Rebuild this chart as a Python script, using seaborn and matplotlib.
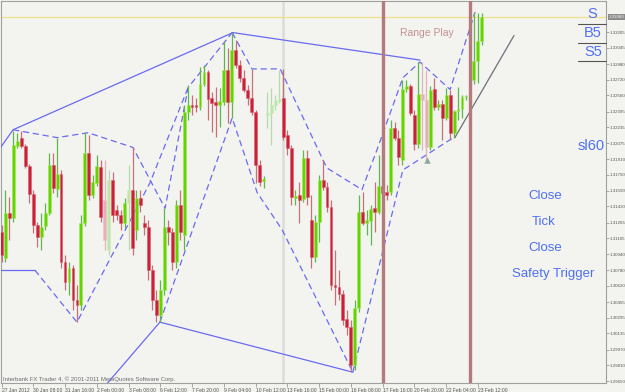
import matplotlib
matplotlib.use("Agg")
import matplotlib.pyplot as plt
import matplotlib.transforms as mtransforms
import numpy as np
import pandas as pd
import seaborn as sns

# ---------------- data (H4 candles) ----------------
date_labels = ["27 Jan 2012", "30 Jan 08:00", "31 Jan 16:00", "2 Feb 00:00", "3 Feb 08:00",
               "6 Feb 12:00", "7 Feb 20:00", "9 Feb 04:00", "10 Feb 12:00", "13 Feb 16:00",
               "15 Feb 00:00", "16 Feb 08:00", "17 Feb 16:00", "20 Feb 20:00", "22 Feb 04:00",
               "23 Feb 12:00"]
date_label_bars = [0, 8, 16, 24, 32, 40, 48, 56, 64, 72, 80, 88, 96, 104, 112, 120]

opens = [1.3117, 1.3090, 1.3136, 1.3131, 1.3204, 1.3213, 1.3204, 1.3184, 1.3156, 1.3124,
         1.3112, 1.3123, 1.3136, 1.3185, 1.3161, 1.3176, 1.3086, 1.3066, 1.3080, 1.3048,
         1.3042, 1.3126, 1.3197, 1.3155, 1.3167, 1.3183, 1.3149, 1.3098, 1.3170, 1.3139,
         1.3134, 1.3126, 1.3146, 1.3160, 1.3119, 1.3151, 1.3126, 1.3122, 1.3078, 1.3048,
         1.3032, 1.3058, 1.3122, 1.3117, 1.3086, 1.3144, 1.3114, 1.3239, 1.3246, 1.3246,
         1.3244, 1.3268, 1.3280, 1.3253, 1.3249, 1.3246, 1.3249, 1.3282, 1.3249, 1.3302,
         1.3287, 1.3274, 1.3262, 1.3253, 1.3239, 1.3185, 1.3169, 1.3236, 1.3238, 1.3246,
         1.3250, 1.3253, 1.3216, 1.3202, 1.3151, 1.3155, 1.3150, 1.3192, 1.3129, 1.3091,
         1.3127, 1.3170, 1.3163, 1.3142, 1.3063, 1.3061, 1.3054, 1.3028, 1.3020, 1.2981,
         1.3039, 1.3137, 1.3126, 1.3128, 1.3141, 1.3137, 1.3164, 1.3158, 1.3158, 1.3223,
         1.3213, 1.3190, 1.3263, 1.3266, 1.3236, 1.3206, 1.3257, 1.3251, 1.3203, 1.3263,
         1.3244, 1.3247, 1.3233, 1.3256, 1.3218, 1.3240, 1.3242, 1.3254, 1.3254, 1.3272,
         1.3291, 1.3311]
highs = [1.3124, 1.3160, 1.3152, 1.3220, 1.3218, 1.3220, 1.3207, 1.3186, 1.3160, 1.3127,
         1.3136, 1.3146, 1.3197, 1.3197, 1.3213, 1.3180, 1.3093, 1.3086, 1.3083, 1.3063,
         1.3134, 1.3218, 1.3216, 1.3175, 1.3195, 1.3190, 1.3190, 1.3180, 1.3178, 1.3144,
         1.3139, 1.3151, 1.3185, 1.3203, 1.3160, 1.3160, 1.3134, 1.3129, 1.3083, 1.3058,
         1.3068, 1.3141, 1.3129, 1.3121, 1.3149, 1.3160, 1.3246, 1.3267, 1.3256, 1.3253,
         1.3285, 1.3287, 1.3282, 1.3259, 1.3265, 1.3264, 1.3310, 1.3304, 1.3320, 1.3312,
         1.3292, 1.3282, 1.3267, 1.3283, 1.3241, 1.3190, 1.3174, 1.3259, 1.3264, 1.3256,
         1.3282, 1.3283, 1.3221, 1.3205, 1.3160, 1.3168, 1.3200, 1.3200, 1.3155, 1.3134,
         1.3175, 1.3190, 1.3168, 1.3149, 1.3098, 1.3078, 1.3058, 1.3037, 1.3027, 1.3048,
         1.3155, 1.3158, 1.3139, 1.3144, 1.3168, 1.3195, 1.3170, 1.3165, 1.3231, 1.3229,
         1.3221, 1.3272, 1.3272, 1.3268, 1.3241, 1.3290, 1.3290, 1.3282, 1.3266, 1.3274,
         1.3251, 1.3251, 1.3264, 1.3262, 1.3241, 1.3265, 1.3256, 1.3256, 1.3287, 1.3341,
         1.3340, 1.3340]
lows = [1.3086, 1.3086, 1.3109, 1.3127, 1.3202, 1.3202, 1.3182, 1.3146, 1.3116, 1.3102,
        1.3098, 1.3119, 1.3134, 1.3157, 1.3152, 1.3080, 1.3058, 1.3053, 1.3037, 1.3025,
        1.3037, 1.3123, 1.3149, 1.3151, 1.3164, 1.3127, 1.3098, 1.3093, 1.3127, 1.3129,
        1.3119, 1.3121, 1.3098, 1.3093, 1.3109, 1.3137, 1.3114, 1.3068, 1.3037, 1.3025,
        1.3025, 1.3053, 1.3104, 1.3078, 1.3080, 1.3109, 1.3098, 1.3231, 1.3236, 1.3239,
        1.3241, 1.3266, 1.3231, 1.3219, 1.3214, 1.3224, 1.3246, 1.3228, 1.3233, 1.3284,
        1.3270, 1.3259, 1.3246, 1.3236, 1.3167, 1.3164, 1.3162, 1.3223, 1.3205, 1.3241,
        1.3248, 1.3211, 1.3195, 1.3144, 1.3144, 1.3126, 1.3147, 1.3144, 1.3080, 1.3086,
        1.3107, 1.3160, 1.3137, 1.3058, 1.3042, 1.3048, 1.3022, 1.3012, 1.2974, 1.2976,
        1.3035, 1.3124, 1.3114, 1.3104, 1.3117, 1.3135, 1.3155, 1.3149, 1.3155, 1.3211,
        1.3185, 1.3185, 1.3259, 1.3236, 1.3200, 1.3202, 1.3200, 1.3190, 1.3200, 1.3241,
        1.3241, 1.3211, 1.3231, 1.3211, 1.3213, 1.3231, 1.3233, 1.3251, 1.3241, 1.3268,
        1.3269, 1.3307]
closes = [1.3093, 1.3136, 1.3131, 1.3205, 1.3210, 1.3204, 1.3184, 1.3156, 1.3124, 1.3112,
          1.3122, 1.3136, 1.3185, 1.3162, 1.3176, 1.3086, 1.3066, 1.3080, 1.3048, 1.3042,
          1.3126, 1.3197, 1.3155, 1.3168, 1.3184, 1.3132, 1.3109, 1.3170, 1.3134, 1.3134,
          1.3126, 1.3146, 1.3160, 1.3101, 1.3151, 1.3144, 1.3122, 1.3078, 1.3048, 1.3032,
          1.3058, 1.3122, 1.3117, 1.3086, 1.3144, 1.3117, 1.3239, 1.3246, 1.3244, 1.3244,
          1.3268, 1.3280, 1.3252, 1.3248, 1.3246, 1.3250, 1.3282, 1.3249, 1.3302, 1.3287,
          1.3274, 1.3262, 1.3253, 1.3239, 1.3185, 1.3168, 1.3171, 1.3238, 1.3246, 1.3251,
          1.3252, 1.3214, 1.3202, 1.3152, 1.3154, 1.3149, 1.3192, 1.3152, 1.3091, 1.3127,
          1.3170, 1.3163, 1.3142, 1.3063, 1.3061, 1.3054, 1.3027, 1.3020, 1.2981, 1.3039,
          1.3137, 1.3126, 1.3129, 1.3140, 1.3137, 1.3164, 1.3157, 1.3155, 1.3223, 1.3213,
          1.3193, 1.3263, 1.3266, 1.3238, 1.3206, 1.3257, 1.3251, 1.3203, 1.3262, 1.3244,
          1.3247, 1.3233, 1.3256, 1.3218, 1.3240, 1.3242, 1.3254, 1.3255, 1.3272, 1.3291,
          1.3311, 1.3336]
faded_bars = [26, 27, 32, 67, 68, 69, 70, 106, 107]

price_ticks = [1.29650, 1.29810, 1.29970, 1.30135, 1.30295, 1.30455, 1.30620, 1.30780,
               1.30940, 1.31105, 1.31265, 1.31430, 1.31590, 1.31750, 1.31910, 1.32075,
               1.32235, 1.32395, 1.32560, 1.32720, 1.32880, 1.33045, 1.33205]
current_price = 1.33360

# trend lines: (bar, price) anchors
solid_lines = [
    ([-0.4, 2.9, 58.3], [1.3202, 1.3221, 1.3320]),
    ([58.3, 105.4], [1.3320, 1.3292]),
    ([-0.4, 8.4], [1.3078, 1.3078]),
    ([24.8, 39.9, 88.5], [1.2954, 1.3025, 1.2974]),
]
grey_line = ([114.2, 129.1], [1.3213, 1.3317])
dashed_lines = [
    ([2.9, 14.0, 21.8, 33.1, 41.2, 47.0, 58.1],
     [1.3221, 1.3213, 1.3218, 1.3203, 1.3141, 1.3264, 1.3320]),
    ([8.4, 19.0, 37.4, 47.0], [1.3078, 1.3025, 1.3167, 1.3264]),
    ([39.9, 58.1, 64.4, 70.7, 88.5], [1.3025, 1.3233, 1.3157, 1.3119, 1.2974]),
    ([58.1, 63.1, 70.2, 81.0, 82.0, 90.8, 94.8, 101.1, 105.4, 113.0, 119.3],
     [1.3320, 1.3283, 1.3283, 1.3190, 1.3182, 1.3160, 1.3203, 1.3274, 1.3290, 1.3262, 1.3341]),
    ([88.5, 101.1, 114.2], [1.2974, 1.3180, 1.3214]),
]
marker_bar, marker_price = 107.2, 1.3190
range_lines = [96, 118]
separator_bar = 70.9

# ---------------- styling ----------------
sns.set_style("white")
plt.rcParams["font.family"] = ["Liberation Sans", "DejaVu Sans"]

BG = "#f3f4f0"
fig = plt.figure(figsize=(6.25, 3.92), dpi=100)
fig.patch.set_facecolor(BG)
ax = fig.add_axes([1 / 625, 9 / 392, 605 / 625, 382 / 392])
ax.set_facecolor(BG)

df = pd.DataFrame({"bar": np.arange(len(opens)), "open": opens, "high": highs,
                   "low": lows, "close": closes})
df["bull"] = df["close"] >= df["open"]
df["faded"] = df["bar"].isin(faded_bars)

ax.axvline(separator_bar, color="#dcdcdc", lw=1.8, zorder=0.5)

# trend lines (seaborn)
for xs, ys in solid_lines:
    sns.lineplot(x=xs, y=ys, ax=ax, color="#6a6af0", lw=0.9, sort=False, zorder=3)
sns.lineplot(x=grey_line[0], y=grey_line[1], ax=ax, color="#6e6e78", lw=0.9, sort=False, zorder=3)
for xs, ys in dashed_lines:
    sns.lineplot(x=xs, y=ys, ax=ax, color="#6a6af0", lw=0.9, sort=False, zorder=3)
    ax.lines[-1].set_dashes([5, 3])

# candles
for _, r in df.iterrows():
    if r["bull"]:
        body_c, edge_c, wick_c = "#62d400", "#a8e860", "#5cb84a"
        if r["faded"]:
            body_c, edge_c, wick_c = "#bfe6a8", "#cdeebb", "#b5dcaa"
    else:
        body_c, edge_c, wick_c = "#cc2038", "#d8606c", "#c8707a"
        if r["faded"]:
            body_c, edge_c, wick_c = "#e6b0b8", "#ecc0c6", "#e2b4ba"
    ax.vlines(r["bar"], r["low"], r["high"], color=wick_c, lw=0.9, zorder=4)
    lo, hi = min(r["open"], r["close"]), max(r["open"], r["close"])
    h = max(hi - lo, 0.00006)
    ax.bar(r["bar"], h, bottom=lo, width=0.72, color=body_c, edgecolor=edge_c,
           linewidth=0.4, zorder=5)

for b in range_lines:
    ax.axvline(b, color="#b47a7e", lw=2.4, zorder=6)

ax.axhline(current_price, color="#f0e08a", lw=0.9, zorder=2)
ax.scatter([marker_bar], [marker_price], marker="^", s=22, color="#8fa89a", zorder=7,
           linewidths=0)

# axes limits / ticks
ax.set_xlim(-0.13, 152.27)
ax.set_ylim(1.29630, 1.33522)
ax.set_xticks(date_label_bars)
ax.set_xticklabels(date_labels)
for lbl in ax.get_xticklabels():
    lbl.set_ha("left")
ax.tick_params(axis="x", length=3, width=0.6, pad=0.5, labelsize=3.6, colors="#9a9a9a",
               labelcolor="#555555", direction="out", bottom=True)
ax.yaxis.tick_right()
ax.set_yticks(price_ticks)
ax.set_yticklabels([f"{p:.5f}" for p in price_ticks])
ax.tick_params(axis="y", length=2, width=0.6, pad=0.6, labelsize=3.2, colors="#9a9a9a",
               labelcolor="#555555", direction="out", right=True)
for s in ax.spines.values():
    s.set_color("#a0a0a0")
    s.set_linewidth(0.8)

# highlighted current price label
trans = mtransforms.blended_transform_factory(ax.transAxes, ax.transData)
ax.text(1.0045, current_price, f"{current_price:.5f}", transform=trans, fontsize=3.2,
        color="#ffffff", va="center", ha="left", clip_on=False,
        bbox=dict(boxstyle="square,pad=0.25", fc="#8c8c8c", ec="none"), zorder=10)

# annotation texts (figure pixel coordinates)
def ftext(x, y, s, **kw):
    fig.text(x / 625, 1 - y / 392, s, **kw)

blue = "#4f6ff2"
ftext(592, 14, "S", fontsize=10.5, color=blue, ha="center", va="center")
ftext(593, 33, "B5", fontsize=10.5, color=blue, ha="center", va="center")
ftext(593, 52, "S5", fontsize=10.5, color=blue, ha="center", va="center")
ftext(591, 146, "sl60", fontsize=10.5, color=blue, ha="center", va="center")
ftext(545, 196, "Close", fontsize=9.5, color=blue, ha="center", va="center")
ftext(544, 222, "Tick", fontsize=9.5, color=blue, ha="center", va="center")
ftext(545, 248, "Close", fontsize=9.5, color=blue, ha="center", va="center")
ftext(553, 274, "Safety Trigger", fontsize=9.5, color=blue, ha="center", va="center")
ftext(427, 33, "Range Play", fontsize=7.5, color="#c49090", ha="center", va="center")
ftext(3, 379, "Interbank FX Trader 4, \u00a9 2001-2011 MetaQuotes Software Corp.",
      fontsize=4.3, color="#6a6a6a", ha="left", va="center")

for yy in (24, 43, 61):
    fig.add_artist(plt.Line2D([578 / 625, 606 / 625], [1 - yy / 392, 1 - yy / 392],
                              color="#555555", lw=0.8))

fig.savefig("out.png", dpi=100, facecolor=BG)
